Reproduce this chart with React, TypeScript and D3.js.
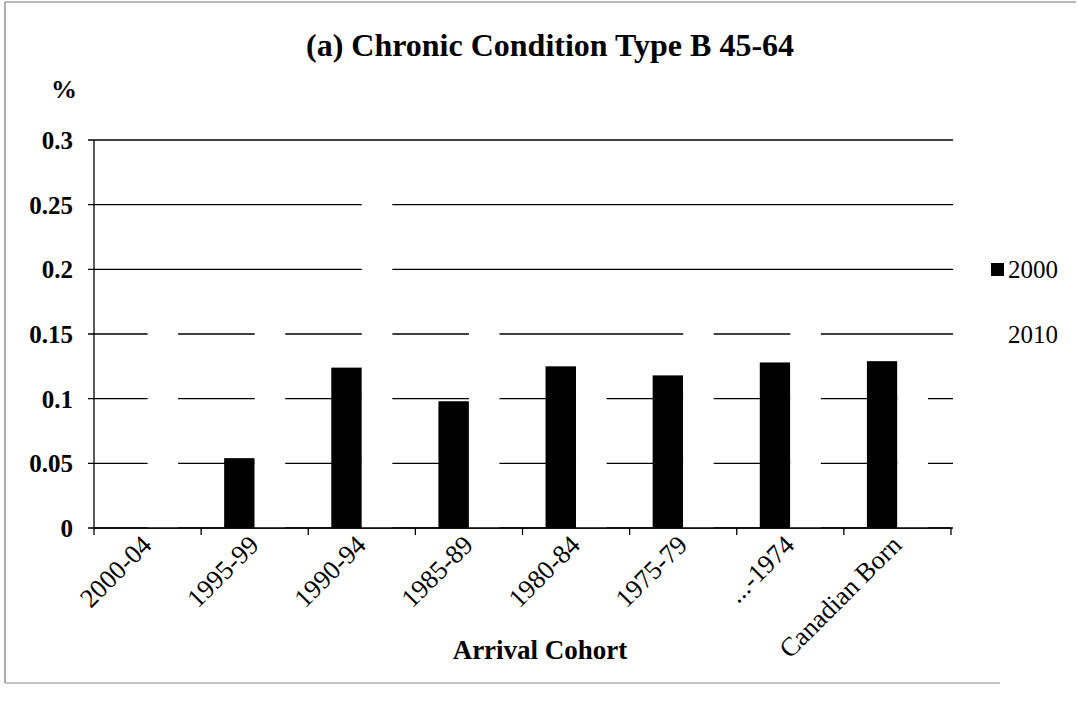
import React from "react";
import * as d3 from "d3";

const categories = ["2000-04", "1995-99", "1990-94", "1985-89", "1980-84", "1975-79", "...-1974", "Canadian Born"];
const series2000 = [0, 0.054, 0.124, 0.098, 0.125, 0.118, 0.128, 0.129];
const series2010 = [0.17, 0.18, 0.27, 0.165, 0.14, 0.165, 0.17, 0.135];
const seriesNames = ["2000", "2010"];
const seriesColors = ["#000000", "#ffffff"];
const yTicks = [0, 0.05, 0.1, 0.15, 0.2, 0.25, 0.3];

const W = 1078;
const H = 706;
const left = 94;
const right = 951;
const top = 140;
const bottom = 528;
const font = "'Liberation Serif', 'Times New Roman', serif";

export default function App() {
  const x = d3.scaleBand<string>().domain(categories).range([left, right]).paddingInner(0.43).paddingOuter(0.215);
  const band = d3.scaleBand<string>().domain(categories).range([left, right]);
  const inner = d3.scaleBand<string>().domain(seriesNames).range([0, x.bandwidth()]);
  const y = d3.scaleLinear().domain([0, 0.3]).range([bottom, top]);
  const all = [series2000, series2010];
  const fmt = (v: number) => (v === 0 ? "0" : String(+v.toFixed(2)));

  return (
    <svg width={W} height={H} style={{ position: "absolute", left: 0, top: 0, background: "#fff" }} fontFamily={font}>
      <rect x={0} y={0} width={W} height={H} fill="#fff" />
      <line x1={5} y1={2} x2={1076} y2={2} stroke="#777" strokeWidth={1.2} />
      <line x1={5} y1={2} x2={5} y2={683} stroke="#777" strokeWidth={1.2} />
      <line x1={5} y1={683} x2={1000} y2={683} stroke="#888" strokeWidth={1.2} />
      <text x={550} y={56} textAnchor="middle" fontWeight="bold" fontSize={32}>(a) Chronic Condition Type B 45-64</text>
      <text x={64} y={98} textAnchor="middle" fontWeight="bold" fontSize={26}>%</text>
      {yTicks.map((t) => (
        <g key={t}>
          <line x1={left - 6} x2={right + 2} y1={y(t)} y2={y(t)} stroke="#000" strokeWidth={1.3} />
          <text x={73} y={y(t) + 9} textAnchor="end" fontWeight="bold" fontSize={25}>{fmt(t)}</text>
        </g>
      ))}
      {all.map((vals, si) =>
        categories.map((c, i) => (
          <rect
            key={si + "-" + c}
            x={(x(c) as number) + (inner(seriesNames[si]) as number)}
            y={y(vals[i])}
            width={inner.bandwidth()}
            height={bottom - y(vals[i])}
            fill={seriesColors[si]}
          />
        ))
      )}
      <line x1={left} x2={left} y1={top} y2={bottom} stroke="#000" strokeWidth={1.3} />
      <line x1={left} x2={right} y1={bottom} y2={bottom} stroke="#000" strokeWidth={1.5} />
      {categories.concat(["end"]).map((c, i) => {
        const tx = left + i * band.step();
        return <line key={"t" + i} x1={tx} x2={tx} y1={bottom} y2={bottom + 7} stroke="#000" strokeWidth={1.3} />;
      })}
      {categories.map((c) => {
        const cx = (band(c) as number) + band.bandwidth() / 2 - 8;
        const cy = bottom + 5;
        return (
          <text key={"l" + c} x={cx} y={cy} textAnchor="end" fontSize={26.5} transform={`rotate(-45 ${cx} ${cy})`} dominantBaseline="hanging">
            {c}
          </text>
        );
      })}
      <text x={540} y={659} textAnchor="middle" fontWeight="bold" fontSize={27}>Arrival Cohort</text>
      {seriesNames.map((s, i) => (
        <g key={"lg" + s}>
          <rect x={991} y={263 + i * 66} width={13} height={13} fill={seriesColors[i]} />
          <text x={1008} y={278 + i * 65} fontSize={25}>{s}</text>
        </g>
      ))}
    </svg>
  );
}
